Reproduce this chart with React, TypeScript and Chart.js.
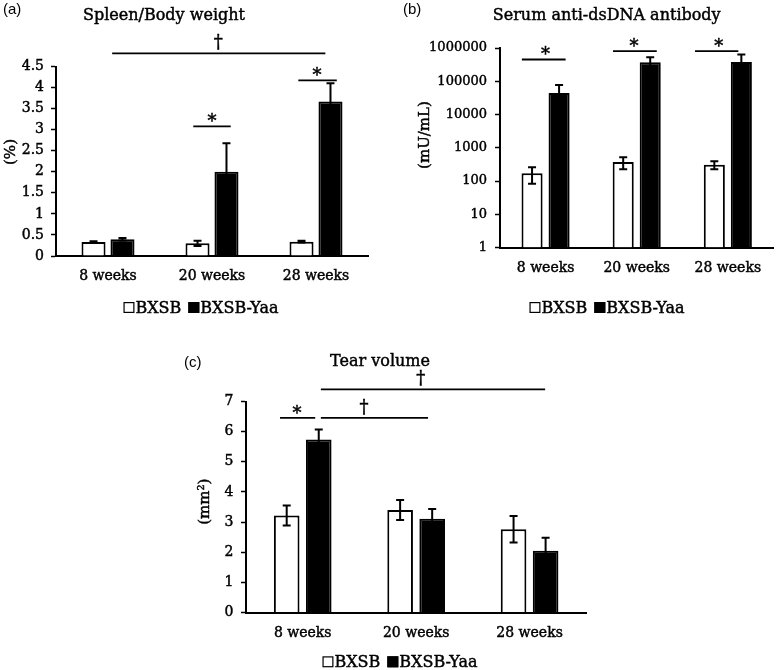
import React, { useEffect, useRef } from 'react';
import { Chart, registerables } from 'chart.js';

Chart.register(...registerables);

// ---------- data ----------
const categories = ['8 weeks', '20 weeks', '28 weeks'];
const seriesNames = ['BXSB', 'BXSB-Yaa'];

const spleenBXSB = [0.33, 0.3, 0.34];
const spleenBXSBErr = [0.02, 0.06, 0.02];
const spleenYaa = [0.4, 2.0, 3.67];
const spleenYaaErr = [0.03, 0.68, 0.43];
const spleenTicks = [0, 0.5, 1, 1.5, 2, 2.5, 3, 3.5, 4, 4.5];

const antiBXSB = [170, 370, 310];
const antiBXSBErr = [87, 145, 85];
const antiYaa = [44000, 375000, 380000];
const antiYaaErr = [33000, 150000, 255000];
const antiTicks = [1, 10, 100, 1000, 10000, 100000, 1000000];

const tearBXSB = [3.22, 3.4, 2.76];
const tearBXSBErr = [0.33, 0.33, 0.44];
const tearYaa = [5.74, 3.11, 2.05];
const tearYaaErr = [0.33, 0.32, 0.43];
const tearTicks = [0, 1, 2, 3, 4, 5, 6, 7];

// significance marks (category units / axis values)
const spleenMarks = [
  { text: '*', from: 0.82, to: 1.18, at: 1.0, level: 3.08 },
  { text: '*', from: 1.83, to: 2.2, at: 2.01, level: 4.17 },
  { text: '\u2020', from: 0.04, to: 2.09, at: 1.06, level: 4.81 },
];
const antiMarks = [
  { text: '*', from: -0.26, to: 0.22, at: 0, level: 451000 },
  { text: '*', from: 0.74, to: 1.22, at: 0.97, level: 800000 },
  { text: '*', from: 1.64, to: 2.115, at: 1.9, level: 800000 },
];
const tearMarks = [
  { text: '*', from: -0.2, to: 0.11, at: -0.05, level: 6.46 },
  { text: '\u2020', from: 0.16, to: 1.105, at: 0.54, level: 6.46 },
  { text: '\u2020', from: 0.16, to: 2.137, at: 1.04, level: 7.4 },
];

const SERIF = '"DejaVu Serif", serif';
const SANS = '"Liberation Sans", Arial, sans-serif';
const STROKE = 0.45;

// ---------- plugins ----------
const errorBarPlugin = {
  id: 'errorBars',
  afterDatasetsDraw(chart: any) {
    const ctx = chart.ctx;
    const yScale = chart.scales.y;
    ctx.save();
    ctx.strokeStyle = '#000';
    ctx.lineWidth = 2;
    chart.data.datasets.forEach((ds: any, i: number) => {
      const meta = chart.getDatasetMeta(i);
      meta.data.forEach((el: any, j: number) => {
        const v = ds.data[j];
        const e = ds.errors[j];
        const lo = Math.max(v - e, yScale.min > 0 ? yScale.min : -Infinity);
        const yt = yScale.getPixelForValue(v + e);
        const yb = yScale.getPixelForValue(lo);
        const x = el.x;
        ctx.beginPath();
        ctx.moveTo(x, yt);
        ctx.lineTo(x, yb);
        ctx.moveTo(x - 4, yt);
        ctx.lineTo(x + 4, yt);
        ctx.moveTo(x - 4, yb);
        ctx.lineTo(x + 4, yb);
        ctx.stroke();
      });
    });
    ctx.restore();
  },
};

function boldText(ctx: any, text: string, x: number, y: number) {
  ctx.fillText(text, x, y);
  ctx.lineWidth = STROKE;
  ctx.strokeText(text, x, y);
}

const decorPlugin = {
  id: 'decor',
  afterDraw(chart: any, _args: any, o: any) {
    const ctx = chart.ctx;
    const xs = chart.scales.x;
    const ys = chart.scales.y;
    ctx.save();
    ctx.fillStyle = '#000';
    ctx.strokeStyle = '#000';

    // panel letter
    ctx.font = `15px ${SANS}`;
    ctx.textAlign = 'left';
    ctx.textBaseline = 'alphabetic';
    ctx.fillText(o.letter, o.letterX, o.letterY);

    // title
    ctx.font = `16px ${SERIF}`;
    ctx.textAlign = 'center';
    boldText(ctx, o.title, o.titleX, o.titleY);

    // y title
    ctx.save();
    ctx.translate(o.yTitleX, o.yTitleY);
    ctx.rotate(-Math.PI / 2);
    ctx.font = `15px ${SERIF}`;
    ctx.textAlign = 'center';
    ctx.textBaseline = 'middle';
    boldText(ctx, o.yTitle, 0, 0);
    ctx.restore();

    // significance marks
    for (const m of o.marks) {
      const py = ys.getPixelForValue(m.level);
      const x1 = xs.getPixelForValue(m.from);
      const x2 = xs.getPixelForValue(m.to);
      ctx.lineWidth = 1.8;
      ctx.beginPath();
      ctx.moveTo(x1, py);
      ctx.lineTo(x2, py);
      ctx.stroke();
      const gx = xs.getPixelForValue(m.at);
      ctx.textAlign = 'center';
      ctx.textBaseline = 'alphabetic';
      if (m.text === '*') {
        ctx.font = `18px ${SERIF}`;
        boldText(ctx, m.text, gx, py + 1);
      } else {
        ctx.font = `18px ${SERIF}`;
        boldText(ctx, m.text, gx, py - 5);
      }
    }

    // legend
    ctx.font = `16px ${SERIF}`;
    ctx.textAlign = 'left';
    ctx.textBaseline = 'alphabetic';
    const ds = chart.data.datasets;
    const box = 11;
    const w0 = ctx.measureText(ds[0].label).width;
    const w1 = ctx.measureText(ds[1].label).width;
    const total = box + 1 + w0 + 7 + box + 1 + w1;
    let lx = o.legendX - total / 2;
    const by = o.legendY;
    ds.forEach((d: any, i: number) => {
      ctx.fillStyle = d.backgroundColor;
      ctx.fillRect(lx, by - box, box, box);
      ctx.lineWidth = 1.2;
      ctx.strokeStyle = '#000';
      ctx.strokeRect(lx + 0.6, by - box + 0.6, box - 1.2, box - 1.2);
      ctx.fillStyle = '#000';
      lx += box + 1;
      boldText(ctx, d.label, lx, by);
      lx += (i === 0 ? w0 : w1) + 7;
    });
    ctx.restore();
  },
};

// ---------- config ----------
function makeConfig(p: any) {
  return {
    type: 'bar',
    data: {
      labels: categories,
      datasets: [
        {
          label: seriesNames[0],
          data: p.white,
          errors: p.whiteErr,
          backgroundColor: '#ffffff',
          borderColor: '#000000',
          borderWidth: 2,
          categoryPercentage: p.cat,
          barPercentage: p.bar,
        },
        {
          label: seriesNames[1],
          data: p.black,
          errors: p.blackErr,
          backgroundColor: '#000000',
          borderColor: '#000000',
          borderWidth: 2,
          categoryPercentage: p.cat,
          barPercentage: p.bar,
        },
      ],
    },
    options: {
      responsive: false,
      animation: false,
      devicePixelRatio: 1,
      layout: { padding: { left: 0, top: p.top, right: p.right, bottom: p.bottom } },
      plugins: {
        legend: { display: false },
        tooltip: { enabled: false },
        title: { display: false },
        decor: p.decor,
      },
      scales: {
        x: {
          type: 'category',
          offset: true,
          grid: { display: false, drawTicks: false },
          border: { display: true, color: '#000', width: 2 },
          ticks: {
            color: '#000',
            font: { family: SERIF, size: 14 },
            padding: 12,
            maxRotation: 0,
            textStrokeColor: '#000',
            textStrokeWidth: STROKE,
          },
          afterFit: (s: any) => {
            s.height = 40;
          },
        },
        y: {
          type: p.log ? 'logarithmic' : 'linear',
          min: p.ticks[0],
          max: p.ticks[p.ticks.length - 1],
          grid: {
            display: true,
            drawOnChartArea: false,
            drawTicks: true,
            tickLength: 5,
            color: '#000',
            tickColor: '#000',
            tickWidth: 1.5,
          },
          border: { display: true, color: '#000', width: 2 },
          ticks: {
            color: '#000',
            font: { family: SERIF, size: p.tickFont },
            padding: p.tickPad,
            autoSkip: false,
            textStrokeColor: '#000',
            textStrokeWidth: STROKE,
            callback: (v: any) => String(v),
          },
          afterBuildTicks: (s: any) => {
            s.ticks = p.ticks.map((v: number) => ({ value: v }));
          },
          afterFit: (s: any) => {
            s.width = p.yw;
          },
        },
      },
    },
    plugins: [errorBarPlugin, decorPlugin],
  };
}

const panelA = {
  white: spleenBXSB, whiteErr: spleenBXSBErr, black: spleenYaa, blackErr: spleenYaaErr,
  ticks: spleenTicks, log: false, cat: 0.557, bar: 0.83,
  top: 66.5, right: 22, bottom: 24, yw: 56, tickFont: 14, tickPad: 7,
  decor: {
    letter: '(a)', letterX: 3, letterY: 13.5,
    title: 'Spleen/Body weight', titleX: 164, titleY: 19.5,
    yTitle: '(%)', yTitleX: 11, yTitleY: 152,
    marks: spleenMarks, legendX: 201, legendY: 313,
  },
};

const panelB = {
  white: antiBXSB, whiteErr: antiBXSBErr, black: antiYaa, blackErr: antiYaaErr,
  ticks: antiTicks, log: true, cat: 0.593, bar: 0.78,
  top: 48, right: 3.6, bottom: 32.5, yw: 110, tickFont: 13, tickPad: 8,
  decor: {
    letter: '(b)', letterX: 13, letterY: 13.5,
    title: 'Serum anti-dsDNA antibody', titleX: 216.7, titleY: 20,
    yTitle: '(mU/mL)', yTitleX: 35, yTitleY: 135,
    marks: antiMarks, legendX: 217, legendY: 313,
  },
};

const panelC = {
  white: tearBXSB, whiteErr: tearBXSBErr, black: tearYaa, blackErr: tearYaaErr,
  ticks: tearTicks, log: false, cat: 0.565, bar: 0.8,
  top: 81.5, right: 13.7, bottom: 17.5, yw: 66, tickFont: 14, tickPad: 7.5,
  decor: {
    letter: '(c)', letterX: 4, letterY: 47,
    title: 'Tear volume', titleX: 200, titleY: 46,
    yTitle: '(mm\u00B2)', yTitleX: 25, yTitleY: 181.7,
    marks: tearMarks, legendX: 220, legendY: 347.3,
  },
};

function Panel({ cfg, left, top, width, height }: any) {
  const ref = useRef<HTMLCanvasElement | null>(null);
  useEffect(() => {
    const chart = new Chart(ref.current as HTMLCanvasElement, makeConfig(cfg) as any);
    return () => chart.destroy();
  }, []);
  return (
    <canvas
      ref={ref}
      width={width}
      height={height}
      style={{ position: 'absolute', left, top, width, height }}
    />
  );
}

export default function App() {
  return (
    <div style={{ position: 'fixed', left: 0, top: 0, width: 777, height: 670, background: '#fff' }}>
      <Panel cfg={panelA} left={0} top={0} width={390} height={320} />
      <Panel cfg={panelB} left={390} top={0} width={387} height={320} />
      <Panel cfg={panelC} left={180} top={320} width={420} height={350} />
    </div>
  );
}
